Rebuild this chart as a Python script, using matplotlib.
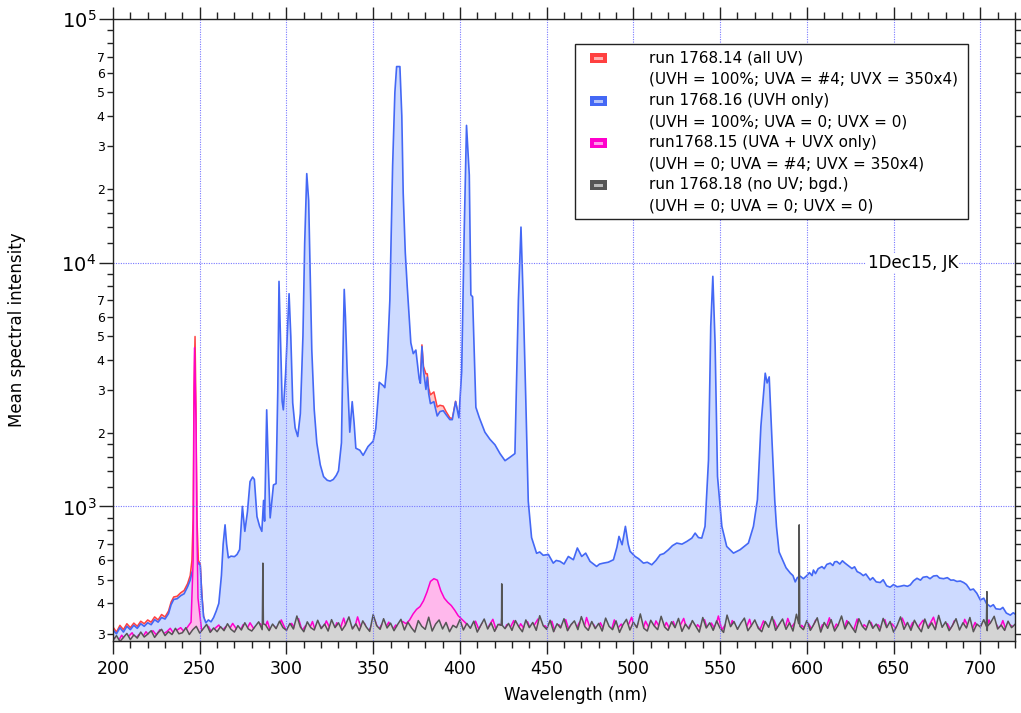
import numpy as np
import matplotlib
matplotlib.use('Agg')
import matplotlib.pyplot as plt
from matplotlib.patches import Rectangle
from matplotlib.ticker import FixedLocator, FuncFormatter

# run 1768.16 (UVH only) -- blue
uvh_nm = [200, 202, 204, 206, 208, 210, 212, 214, 216, 218,
          220, 222, 224, 226, 228, 230, 232, 233.5, 235, 237,
          239, 241, 243, 244.5, 245.5, 246.5, 248, 249.2, 250.3, 251.2,
          252.2, 253.5, 255, 256.5, 258, 259.5, 261, 262.5, 263.5, 264.6,
          265.5, 266.5, 268, 270, 271.5, 273, 274.6, 276, 277.5, 279,
          280.5, 281.5, 283, 284.5, 285.8, 286.8, 287.4, 288.6, 289.5, 290.6,
          292.5, 294, 295, 295.7, 296.5, 297.5, 298.2, 299.5, 301.5, 302.5,
          303.6, 305, 306.5, 308, 309.5, 310.5, 311.7, 312.8, 314, 314.6,
          316, 317.5, 319.5, 321.4, 323.5, 325.2, 327, 328.7, 330, 331.7,
          332.5, 333.3, 334, 335, 336.5, 337.9, 339, 340, 342.3, 344.2,
          347, 350, 351.5, 353.5, 355.8, 356.7, 358, 359.6, 361.2, 362.5,
          363.5, 365.4, 366.5, 367.3, 368.5, 369.6, 371.7, 373.1, 374.6, 376.5,
          377.2, 378.1, 379, 380.4, 381.2, 382, 383, 385, 386.9, 388.5,
          390.4, 392, 394.2, 395.6, 397.5, 399.4, 401, 402.5, 403.8, 405.4,
          406.3, 407.3, 409.2, 411.2, 414.4, 417.3, 420.2, 423.1, 426, 428.8,
          431.7, 433.7, 435.2, 436.5, 438, 439.4, 441.3, 444.2, 446, 448,
          451, 453.8, 455.5, 457.7, 460, 462.5, 465.4, 467.7, 470.2, 472.5,
          475, 478.8, 480.5, 482.7, 485.5, 488.5, 490.5, 491.7, 493.5, 495.4,
          497, 498.1, 501, 503, 505.8, 508, 510.6, 513, 515.4, 517.5,
          520.2, 522.5, 525, 528, 530.8, 533.7, 535.6, 537.5, 539.4, 541.3,
          543.3, 544.6, 545.8, 547.1, 548.5, 551, 553.8, 557.7, 561.5, 566.3,
          569.2, 571.5, 573.5, 576, 577.1, 578.3, 580, 581.5, 582.5, 584,
          586, 588, 590.4, 592, 593.3, 594.5, 596.2, 598, 600, 601.5,
          603, 603.8, 605, 606.5, 608.7, 610, 611.5, 613.5, 615, 616,
          617.3, 619, 620.5, 622, 624, 626, 627.5, 629, 630.8, 632.5,
          634, 636.5, 638, 640, 642.3, 644, 646, 648, 650, 652,
          653.8, 656, 658, 659.6, 661.5, 663.5, 665.5, 667, 669.2, 671,
          673, 675, 676.5, 678.8, 681, 683, 684.6, 686.5, 688.5, 690.4,
          692, 694.2, 696, 698, 700, 702, 703.5, 705.8, 707.5, 709,
          711.5, 713, 715, 717.3, 719, 720]
uvh_val = [311, 300, 318, 305, 322, 312, 325, 316, 330, 322,
           333, 327, 343, 335, 350, 345, 363, 395, 415, 418,
           430, 438, 468, 498, 535, 555, 565, 588, 572, 430,
           353, 333, 342, 336, 350, 372, 400, 520, 700, 840,
           700, 615, 625, 622, 635, 665, 1000, 790, 950, 1264,
           1320, 1290, 908, 830, 790, 1058, 870, 2490, 1500, 897,
           1225, 1240, 3000, 8380, 5000, 2700, 2490, 3500, 7460, 5000,
           2660, 2100, 1935, 2400, 5000, 12000, 23200, 18000, 7000, 4390,
           2500, 1820, 1480, 1325, 1280, 1270, 1290, 1340, 1400, 1823,
           4000, 7770, 6000, 3570, 2016, 2690, 2200, 1733, 1700, 1620,
           1760, 1853, 2087, 3230, 3130, 3070, 3830, 7020, 25000, 50000,
           63800, 63800, 40000, 19300, 11000, 8030, 4690, 4235, 4380, 3340,
           3200, 4530, 3600, 3020, 3390, 2900, 2640, 2690, 2350, 2450,
           2470, 2380, 2270, 2270, 2690, 2310, 3570, 13770, 36600, 22900,
           7380, 7250, 2550, 2310, 2016, 1885, 1790, 1647, 1540, 1590,
           1647, 7020, 14000, 7020, 2700, 1050, 745, 642, 650, 630,
           635, 585, 600, 595, 580, 623, 604, 675, 623, 643,
           595, 567, 580, 585, 590, 604, 680, 753, 696, 828,
           700, 654, 623, 610, 585, 590, 576, 600, 633, 640,
           664, 690, 707, 700, 718, 741, 777, 745, 741, 828,
           1550, 5480, 8790, 4680, 1328, 828, 685, 643, 664, 707,
           828, 1065, 2130, 3520, 3210, 3400, 1800, 1060, 826, 650,
           603, 560, 533, 520, 490, 510, 517, 505, 520, 535,
           520, 548, 530, 555, 566, 555, 578, 585, 572, 592,
           594, 580, 598, 585, 570, 556, 565, 540, 532, 520,
           528, 499, 510, 490, 487, 500, 472, 466, 478, 468,
           470, 474, 470, 476, 495, 507, 498, 512, 515, 505,
           518, 520, 508, 505, 510, 498, 499, 492, 494, 487,
           478, 454, 458, 440, 413, 420, 400, 388, 395, 380,
           378, 385, 365, 358, 366, 362]

# run 1768.14 (all UV) -- red, only where it shows above the blue trace
all_a_nm = [200, 202, 204, 206, 208, 210, 212, 214, 216, 218,
            220, 222, 224, 226, 228, 230, 232, 233.5, 235, 237,
            239, 241, 243, 244.5, 245.5, 246.2, 246.7, 247.3, 247.8, 248.4,
            249.2, 250.3, 251.2, 252.2, 253.5]
all_a_val = [320, 305, 325, 312, 330, 318, 332, 322, 338, 330,
             342, 335, 352, 342, 360, 352, 372, 405, 425, 428,
             442, 452, 482, 520, 600, 900, 3000, 4980, 2600, 900,
             600, 580, 440, 355, 330]
all_b_nm = [376.5, 377.2, 378.1, 379, 380.4, 381.2, 382, 383, 385, 386.9,
            388.5, 390.4, 392, 394.2, 395.6, 397.5, 399.4]
all_b_val = [3300, 3250, 4600, 3750, 3500, 3500, 3050, 2870, 2950, 2560,
             2600, 2580, 2450, 2310, 2290, 2700, 2300]

# run1768.15 (UVA + UVX only) -- magenta, sampled every 2 nm from 201 nm
uva_step_nm = np.arange(201, 720, 2)
uva_val = [288, 280, 296, 284, 293, 303, 287, 298, 290, 306, 294, 309, 297, 312, 300, 306, 316, 301, 311, 318,
           306, 320, 335, 4475, 420, 314, 306, 322, 303, 317, 326, 309, 321, 313, 331, 315, 305, 327, 312, 333,
           316, 306, 330, 312, 338, 304, 322, 311, 342, 318, 306, 331, 314, 346, 309, 324, 312, 337, 303, 327,
           313, 339, 317, 304, 333, 315, 348, 309, 325, 312, 352, 316, 331, 305, 322, 341, 311, 328, 316, 335,
           310, 326, 314, 337, 330, 342, 362, 378, 388, 410, 445, 492, 505, 498, 450, 420, 404, 392, 375, 356,
           345, 334, 322, 314, 338, 312, 331, 306, 326, 344, 310, 329, 304, 327, 318, 340, 308, 330, 315, 336,
           309, 327, 345, 305, 324, 313, 338, 303, 327, 316, 343, 308, 330, 314, 335, 306, 350, 317, 328, 310,
           333, 312, 327, 304, 342, 316, 329, 308, 325, 351, 313, 330, 305, 338, 317, 303, 339, 320, 311, 334,
           314, 337, 308, 325, 347, 310, 329, 305, 327, 316, 343, 309, 332, 314, 355, 311, 327, 304, 340, 320,
           309, 329, 317, 344, 305, 327, 312, 339, 320, 303, 342, 315, 331, 308, 347, 318, 333, 312, 325, 315,
           330, 311, 341, 305, 327, 316, 349, 308, 329, 318, 304, 340, 321, 311, 345, 306, 327, 317, 334, 309,
           327, 314, 343, 305, 330, 318, 309, 348, 322, 311, 334, 304, 326, 341, 312, 330, 351, 315, 324, 308,
           330, 311, 339, 318, 303, 344, 321, 309, 334, 315, 327, 305, 342, 318, 330, 312, 340, 308, 327, 320]
uva_peak_nm = [246.2, 246.7, 247.8, 248.4]
uva_peak_val = [600, 2400, 2300, 800]

# run 1768.18 (no UV; bgd.) -- dark gray, sampled every 2 nm from 200 nm
bgd_step_nm = np.arange(200, 721, 2)
bgd_val = [282, 295, 279, 290, 301, 284, 297, 288, 305, 291, 299, 309, 290, 303, 313, 295, 306, 298, 316, 300,
           303, 318, 298, 312, 322, 302, 315, 328, 304, 317, 306, 321, 309, 330, 313, 305, 324, 311, 333, 314,
           308, 322, 336, 312, 326, 309, 329, 315, 338, 318, 310, 331, 314, 355, 320, 306, 336, 318, 311, 341,
           315, 329, 308, 343, 318, 333, 310, 326, 352, 314, 330, 309, 339, 320, 307, 360, 324, 313, 346, 317,
           332, 309, 327, 344, 311, 335, 318, 305, 340, 322, 313, 351, 308, 329, 342, 314, 334, 306, 325, 318,
           343, 311, 331, 316, 338, 305, 325, 345, 314, 333, 307, 328, 349, 315, 331, 310, 340, 320, 306, 342,
           318, 334, 310, 356, 324, 313, 341, 306, 330, 317, 346, 309, 327, 339, 312, 353, 321, 310, 337, 315,
           331, 308, 348, 322, 312, 339, 304, 327, 344, 311, 335, 318, 362, 316, 308, 341, 323, 312, 354, 320,
           310, 336, 318, 347, 307, 329, 314, 340, 322, 305, 350, 317, 333, 310, 339, 316, 304, 358, 321, 337,
           313, 332, 348, 309, 324, 342, 316, 306, 337, 319, 353, 310, 328, 345, 313, 333, 308, 361, 322, 312,
           340, 310, 328, 349, 305, 334, 316, 343, 308, 325, 355, 314, 336, 319, 304, 346, 322, 311, 340, 316,
           329, 308, 347, 318, 337, 305, 324, 352, 313, 334, 310, 341, 321, 306, 345, 316, 333, 312, 357, 319,
           336, 309, 325, 346, 311, 333, 317, 350, 306, 329, 320, 343, 309, 334, 354, 314, 326, 310, 338, 318,
           328]
bgd_spike_nm = [286.1, 286.4, 286.7, 423.8, 424.1, 424.4, 595.3, 595.6, 595.9, 703.5, 703.8, 704.1]
bgd_spike_val = [330, 585, 330, 325, 481, 325, 330, 840, 330, 322, 447, 322]

legend_lines = ['run 1768.14 (all UV)', '(UVH = 100%; UVA = #4; UVX = 350x4)',
                'run 1768.16 (UVH only)', '(UVH = 100%; UVA = 0; UVX = 0)',
                'run1768.15 (UVA + UVX only)', '(UVH = 0; UVA = #4; UVX = 350x4)',
                'run 1768.18 (no UV; bgd.)', '(UVH = 0; UVA = 0; UVX = 0)']


def merge(a_nm, a_val, b_nm, b_val):
    x = np.concatenate([np.asarray(a_nm, float), np.asarray(b_nm, float)])
    y = np.concatenate([np.asarray(a_val, float), np.asarray(b_val, float)])
    order = np.argsort(x, kind='stable')
    return x[order], y[order]


uva_nm, uva_all = merge(uva_step_nm, uva_val, uva_peak_nm, uva_peak_val)
bgd_nm, bgd_all = merge(bgd_step_nm, bgd_val, bgd_spike_nm, bgd_spike_val)

c_red, c_blue, c_mag, c_gray = '#ff4040', '#4468f5', '#ff00cc', '#555555'

W, H = 1021, 713
fig = plt.figure(figsize=(W / 100, H / 100), dpi=100)
ax = fig.add_axes([113 / W, 1 - 641 / H, (1015 - 113) / W, (641 - 19) / H])

# red (all UV), under the blue
for xs, ys in [(all_a_nm, all_a_val), (all_b_nm, all_b_val)]:
    ax.fill_between(xs, 1, ys, color='#ffc8c8', lw=0, zorder=1.0)
    ax.plot(xs, ys, color=c_red, lw=1.1, zorder=1.1)
ax.fill_between(uvh_nm, 1, uvh_val, color='#cddaff', lw=0, zorder=1.2)
ax.plot(uvh_nm, uvh_val, color=c_blue, lw=1.2, zorder=1.3)
ax.fill_between(uva_nm, 1, uva_all, color='#ffb8ec', lw=0, zorder=1.4)
ax.plot(uva_nm, uva_all, color=c_mag, lw=1.1, zorder=1.5)
ax.fill_between(bgd_nm, 1, bgd_all, color='#d4d4d4', lw=0, zorder=1.6)
ax.plot(bgd_nm, bgd_all, color=c_gray, lw=1.1, zorder=1.7)

for x in range(250, 701, 50):
    ax.axvline(x, color='#7878ff', lw=0.8, ls=(0, (1, 1.2)), zorder=2)
for y in [1e3, 1e4]:
    ax.axhline(y, color='#7878ff', lw=0.8, ls=(0, (1, 1.2)), zorder=2)

ax.set_yscale('log')
ax.set_xlim(200, 720)
ax.set_ylim(280.3, 1e5)

ax.xaxis.set_major_locator(FixedLocator(np.arange(200, 701, 50)))
ax.xaxis.set_minor_locator(FixedLocator(np.arange(200, 721, 10)))
ax.yaxis.set_major_locator(FixedLocator([1e3, 1e4, 1e5]))
ax.yaxis.set_major_formatter(FuncFormatter(lambda v, p: r'$\mathregular{10^{%d}}$' % round(np.log10(v))))
subs = [1.2, 1.4, 1.6, 1.8, 2, 3, 4, 5, 6, 7, 8, 9]
ax.yaxis.set_minor_locator(FixedLocator([d * s for d in [100, 1000, 10000] for s in subs]))


def minor_fmt(v, pos):
    m = v / 10 ** np.floor(np.log10(v) + 1e-9)
    r = round(m)
    if abs(m - r) < 1e-6 and 2 <= r <= 7:
        return '%d' % r
    return ''


ax.yaxis.set_minor_formatter(FuncFormatter(minor_fmt))

ax.tick_params(which='both', direction='out', top=True, right=True, width=1, color='#222222')
ax.tick_params(axis='x', which='major', length=9, labelsize=12.5, pad=5)
ax.tick_params(axis='x', which='minor', length=5)
ax.tick_params(axis='y', which='major', length=10, labelsize=14, pad=2)
ax.tick_params(axis='y', which='minor', length=4, labelsize=9, pad=2)
for s in ax.spines.values():
    s.set_linewidth(1.0)
    s.set_color('#222222')

fig.text(576 / W, 1 - 695 / H, 'Wavelength (nm)', ha='center', va='center', fontsize=12)
fig.text(17 / W, 1 - 330 / H, 'Mean spectral intensity', ha='center', va='center',
         rotation=90, fontsize=12)
fig.text(958 / W, 1 - 263 / H, '1Dec15, JK', ha='right', va='center', fontsize=12,
         bbox=dict(fc='white', ec='none', pad=1))

# legend box drawn by hand
fig.add_artist(Rectangle((575 / W, 1 - 219 / H), (968 - 575) / W, (219 - 44) / H,
                         transform=fig.transFigure, fc='white', ec='#222222', lw=1, zorder=5))
line_y = [58, 79.5, 101, 122, 143, 164, 185, 206]
sw_cols = [c_red, c_blue, c_mag, c_gray]
for i, txt in enumerate(legend_lines):
    fig.text(649 / W, 1 - line_y[i] / H, txt, ha='left', va='center', fontsize=11, zorder=6)
for i, c in enumerate(sw_cols):
    y = line_y[2 * i]
    fig.add_artist(Rectangle((590 / W, 1 - (y + 5) / H), 17 / W, 10 / H,
                             transform=fig.transFigure, fc=c, ec='none', zorder=6))
    fig.add_artist(Rectangle((594 / W, 1 - (y + 1.5) / H), 9 / W, 3 / H,
                             transform=fig.transFigure, fc='white', alpha=0.6, ec='none', zorder=7))

fig.savefig('out.png', dpi=100)
